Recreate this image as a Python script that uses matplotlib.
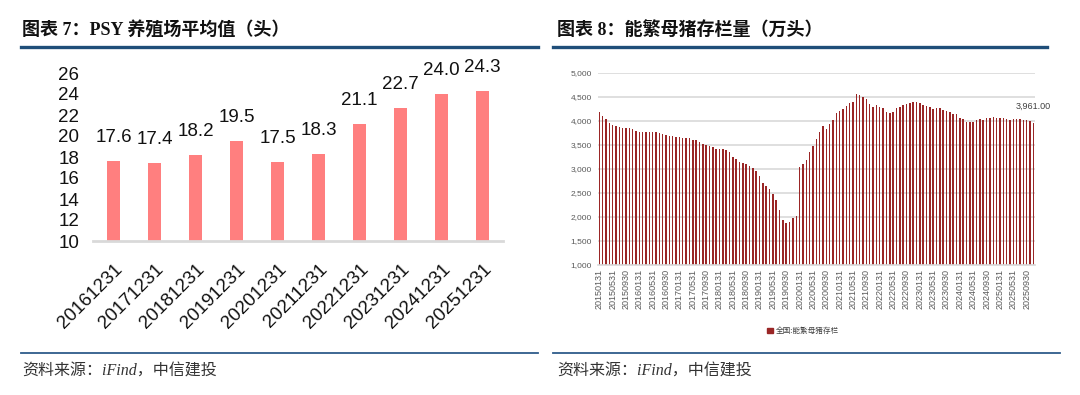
import matplotlib
matplotlib.use('Agg')
import matplotlib.pyplot as plt
import pandas as pd
from matplotlib.lines import Line2D
from matplotlib.patches import Rectangle

# left chart: PSY
psy_dates = ['20161231', '20171231', '20181231', '20191231', '20201231',
             '20211231', '20221231', '20231231', '20241231', '20251231']
psy_values = [17.6, 17.4, 18.2, 19.5, 17.5, 18.3, 21.1, 22.7, 24.0, 24.3]

# right chart: sow inventory, monthly 2015-01 .. 2025-11
sow_dates = pd.date_range('2015-01-31', '2025-11-30', freq='ME').strftime('%Y%m%d').tolist()
sow_values = [
    4188, 4098, 4042, 3959, 3918, 3897, 3876, 3855, 3841, 3841, 3820, 3793,
    3772, 3758, 3758, 3758, 3758, 3758, 3744, 3723, 3710, 3689, 3675, 3661,
    3654, 3641, 3641, 3641, 3606, 3592, 3564, 3523, 3495, 3474, 3453, 3419,
    3419, 3405, 3391, 3342, 3245, 3211, 3148, 3121, 3100, 3058, 3024, 2954,
    2850, 2698, 2649, 2573, 2476, 2351, 2143, 1936, 1880, 1894, 1977, 2019,
    3044, 3100, 3183, 3349, 3474, 3613, 3772, 3897, 3820, 3931, 4015, 4167,
    4209, 4243, 4306, 4361, 4382, 4548, 4527, 4486, 4444, 4347, 4292, 4320,
    4278, 4264, 4181, 4167, 4188, 4257, 4278, 4326, 4354, 4375, 4389, 4382,
    4368, 4326, 4306, 4285, 4243, 4271, 4257, 4222, 4209, 4174, 4139, 4139,
    4049, 4028, 3973, 3973, 3973, 4015, 4028, 4015, 4049, 4049, 4070, 4049,
    4049, 4049, 4028, 4015, 4028, 4035, 4028, 4015, 4008, 3990, 3961,
]

CJK = ['Noto Sans CJK SC', 'DejaVu Sans']
TITLE_FONT = ['Liberation Serif', 'Noto Sans CJK SC']
plt.rcParams['font.family'] = ['Liberation Sans', 'Noto Sans CJK SC']

fig = plt.figure(figsize=(10.8, 3.95), dpi=100)
W, H = 1080.0, 395.0


def fx(px):
    return px / W


def fy(py):
    return 1 - py / H


# titles, rules, sources
blue = '#1F4E79'
fig.text(fx(22), fy(30), '图表 7：PSY 养殖场平均值（头）', family=TITLE_FONT,
         fontsize=13, fontweight='bold', va='center', ha='left', color='#111111')
fig.text(fx(557), fy(30), '图表 8：能繁母猪存栏量（万头）', family=TITLE_FONT,
         fontsize=13, fontweight='bold', va='center', ha='left', color='#111111')
for x0, x1 in [(21, 538), (553, 1047)]:
    fig.add_artist(Line2D([fx(x0), fx(x1)], [fy(47), fy(47)], color=blue, lw=2.4))
for x0, x1 in [(21, 538), (553, 1060)]:
    fig.add_artist(Line2D([fx(x0), fx(x1)], [fy(353), fy(353)], color='#2E5C8A', lw=1.3))
for x0 in [22, 557]:
    fig.text(fx(x0), fy(372), '资料来源：iFind，中信建投', family=TITLE_FONT,
             fontsize=11.5, style='italic', va='center', ha='left', color='#333333')

# left chart
ax1 = fig.add_axes([fx(93), fy(241), fx(503) - fx(93), fy(73) - fy(241)])
x = range(len(psy_values))
ax1.bar(x, psy_values, width=0.32, color='#FF7F7F', bottom=0)
ax1.set_xlim(-0.5, 9.5)
ax1.set_ylim(10, 26)
ax1.set_yticks(range(10, 27, 2))
ax1.set_xticks(list(x))
ax1.set_xticklabels(psy_dates, rotation=45, ha='right', va='top', rotation_mode='anchor')
ax1.tick_params(axis='both', length=0, labelsize=13.5, colors='#111111')
ax1.tick_params(axis='x', pad=14)
ax1.tick_params(axis='y', pad=10)
for s in ['top', 'right', 'left']:
    ax1.spines[s].set_visible(False)
ax1.spines['bottom'].set_color('#D9D9D9')
ax1.spines['bottom'].set_linewidth(2)
for i, v in enumerate(psy_values):
    ax1.annotate('%.1f' % v, (i, v), xytext=(0, 17), textcoords='offset points',
                 ha='center', va='center', fontsize=13.5, color='#111111',
                 annotation_clip=False)

# right chart
ax2 = fig.add_axes([fx(597.6), fy(265), fx(1035) - fx(597.6), fy(72.5) - fy(265)])
xs = range(len(sow_values))
ax2.bar(xs, sow_values, width=0.45, color='#9A2626', zorder=2)
ax2.set_xlim(-0.5, len(sow_values) - 0.5)
ax2.set_ylim(1000, 5000)
ax2.set_yticks(range(1000, 5001, 500))
ax2.set_yticklabels(['{:,}'.format(v) for v in range(1000, 5001, 500)])
ax2.grid(axis='y', color='#D9D9D9', lw=1.2, zorder=0)
ax2.set_axisbelow(True)
ticks = list(range(0, len(sow_values), 4))
ax2.set_xticks(ticks)
ax2.set_xticklabels([sow_dates[i] for i in ticks], rotation=90, ha='center', va='top')
ax2.tick_params(axis='y', length=0, labelsize=6, colors='#595959', pad=4)
ax2.tick_params(axis='x', length=0, labelsize=6.5, colors='#595959', pad=3)
for s in ['top', 'right', 'left']:
    ax2.spines[s].set_visible(False)
ax2.spines['bottom'].set_color('#D9D9D9')
ax2.spines['bottom'].set_linewidth(1.2)
last = len(sow_values) - 1
ax2.annotate('{:,.2f}'.format(sow_values[last]), (last, sow_values[last]),
             xytext=(0, 12), textcoords='offset points', ha='center', va='center',
             fontsize=6.5, color='#404040', annotation_clip=False)

handle = Rectangle((0, 0), 1, 1, color='#9A2626')
fig.legend([handle], ['全国:能繁母猪存栏'], loc='center', bbox_to_anchor=(fx(803), fy(331)),
           frameon=False, prop={'family': CJK, 'size': 5.5}, handlelength=0.7,
           handleheight=0.7, handletextpad=0.4, labelcolor='#404040')

fig.savefig('out.png', dpi=100)
